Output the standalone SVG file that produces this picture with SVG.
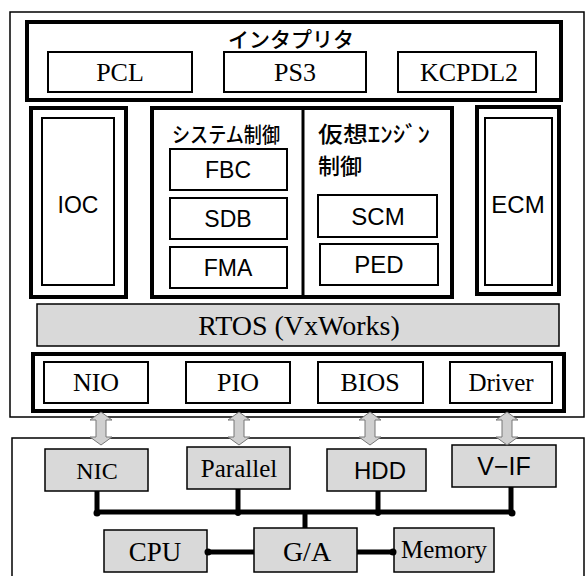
<svg xmlns="http://www.w3.org/2000/svg" width="588" height="576" viewBox="0 0 588 576">
<defs>
<style>
.outer{fill:#fff;stroke:#000;stroke-width:1.5}
.thick{fill:#fff;stroke:#000;stroke-width:4}
.thin{fill:#fff;stroke:#000;stroke-width:2}
.gray{fill:#d9d9d9;stroke:#000;stroke-width:1.5}
.serif{font-family:"Liberation Serif","Times New Roman",serif;fill:#000;text-anchor:middle}
.sans{font-family:"Liberation Sans",Arial,sans-serif;fill:#000;text-anchor:middle}
.jp{font-family:"Noto Sans CJK JP","Noto Sans",sans-serif;fill:#000;font-weight:500}
.bus{stroke:#000;stroke-width:5;fill:none}
.arrow{fill:#d0d0d0;stroke:#777;stroke-width:1}
</style>
</defs>
<rect width="588" height="576" fill="#fff"/>

<g id="software">
<rect class="outer" x="10" y="12" width="574" height="405"/>
</g>

<g id="interpreter">
<rect class="thick" x="27" y="22" width="534" height="78"/>
<text class="jp" x="291" y="47" font-size="21" text-anchor="middle">インタプリタ</text>
</g>
<g id="pcl"><rect class="thin" x="48" y="52" width="144" height="40"/><text class="serif" x="120" y="81" font-size="26">PCL</text></g>
<g id="ps3"><rect class="thin" x="224" y="52" width="142" height="40"/><text class="serif" x="295" y="81" font-size="26">PS3</text></g>
<g id="kcpdl2"><rect class="thin" x="398" y="52" width="138" height="40"/><text class="serif" x="469" y="81" font-size="26">KCPDL2</text></g>

<g id="ioc">
<rect class="thick" x="31" y="108" width="95" height="189"/>
<rect class="thin" x="42" y="118" width="72" height="167"/>
<text class="sans" x="78" y="213" font-size="23">IOC</text>
</g>

<g id="control">
<rect class="thick" x="152" y="108" width="300" height="189"/>
<line x1="303" y1="108" x2="303" y2="297" stroke="#000" stroke-width="3"/>
</g>
<g id="system">
<text class="jp" x="172" y="142" font-size="21" textLength="108" lengthAdjust="spacingAndGlyphs">システム制御</text>
</g>
<g id="fbc"><rect class="thin" x="170" y="149" width="117" height="41"/><text class="sans" x="228" y="178" font-size="23">FBC</text></g>
<g id="sdb"><rect class="thin" x="170" y="198" width="117" height="41"/><text class="sans" x="228" y="227" font-size="23">SDB</text></g>
<g id="fma"><rect class="thin" x="170" y="247" width="117" height="41"/><text class="sans" x="228" y="276" font-size="23">FMA</text></g>
<g id="virtual">
<text class="jp" x="318" y="142" font-size="22" textLength="112" lengthAdjust="spacingAndGlyphs">仮想ｴﾝｼﾞﾝ</text>
<text class="jp" x="318" y="174" font-size="22">制御</text>
</g>
<g id="scm"><rect class="thin" x="318" y="195" width="119" height="42"/><text class="sans" x="378" y="225" font-size="24">SCM</text></g>
<g id="ped"><rect class="thin" x="320" y="244" width="118" height="41"/><text class="sans" x="379" y="273" font-size="24">PED</text></g>

<g id="ecm">
<rect class="thick" x="477" y="107" width="82" height="187"/>
<rect class="thin" x="485" y="118" width="67" height="167"/>
<text class="sans" x="518" y="213" font-size="24">ECM</text>
</g>

<g id="rtos">
<rect class="gray" x="37" y="304" width="522" height="42"/>
<text class="serif" x="299" y="335" font-size="28">RTOS (VxWorks)</text>
</g>

<g id="drivers">
<rect class="thick" x="33" y="354" width="531" height="57"/>
</g>
<g id="nio"><rect class="thin" x="44" y="362" width="104" height="41"/><text class="serif" x="96" y="391" font-size="26">NIO</text></g>
<g id="pio"><rect class="thin" x="186" y="362" width="104" height="41"/><text class="serif" x="238" y="391" font-size="26">PIO</text></g>
<g id="bios"><rect class="thin" x="318" y="362" width="105" height="41"/><text class="serif" x="370" y="391" font-size="26">BIOS</text></g>
<g id="driver"><rect class="thin" x="450" y="362" width="102" height="41"/><text class="serif" x="501" y="391" font-size="25">Driver</text></g>

<g id="hardware">
<rect class="outer" x="12" y="438" width="572" height="150"/>
</g>
<g id="nic"><rect class="gray" x="45" y="449" width="103" height="42"/><text class="serif" x="97" y="479" font-size="24">NIC</text></g>
<g id="parallel"><rect class="gray" x="187" y="447" width="103" height="42"/><text class="serif" x="239" y="477" font-size="25">Parallel</text></g>
<g id="hdd"><rect class="gray" x="327" y="449" width="99" height="42"/><text class="sans" x="380" y="479" font-size="24">HDD</text></g>
<g id="vif"><rect class="gray" x="452" y="445" width="104" height="42"/><text class="sans" x="504" y="475" font-size="25">V−IF</text></g>
<g id="cpu"><rect class="gray" x="104" y="530" width="103" height="42"/><text class="serif" x="155" y="561" font-size="27">CPU</text></g>
<g id="ga"><rect class="gray" x="254" y="528" width="103" height="44"/><text class="serif" x="307" y="561" font-size="28">G/A</text></g>
<g id="memory"><rect class="gray" x="394" y="528" width="100" height="44"/><text class="serif" x="444" y="558" font-size="25">Memory</text></g>

<g id="connectors">
<path class="arrow" d="M101,412 L112,420 L106,420 L106,437 L112,437 L101,445 L90,437 L96,437 L96,420 L90,420 Z"/>
<path class="arrow" d="M239,412 L250,420 L244,420 L244,437 L250,437 L239,445 L228,437 L234,437 L234,420 L228,420 Z"/>
<path class="arrow" d="M370,412 L381,420 L375,420 L375,437 L381,437 L370,445 L359,437 L365,437 L365,420 L359,420 Z"/>
<path class="arrow" d="M507,412 L518,420 L512,420 L512,437 L518,437 L507,445 L496,437 L502,437 L502,420 L496,420 Z"/>
<path class="bus" d="M97,512 H512 M97,491 V512 M238,489 V512 M378,491 V512 M511,487 V512 M305,512 V528 M207,552 H254 M357,552 H394"/>
<circle cx="97" cy="513" r="3.5"/><circle cx="238" cy="513" r="3"/><circle cx="378" cy="513" r="3"/><circle cx="512" cy="513" r="3.5"/>
<circle cx="208" cy="552" r="3.5"/><circle cx="393" cy="552" r="3.5"/>
</g>
</svg>
